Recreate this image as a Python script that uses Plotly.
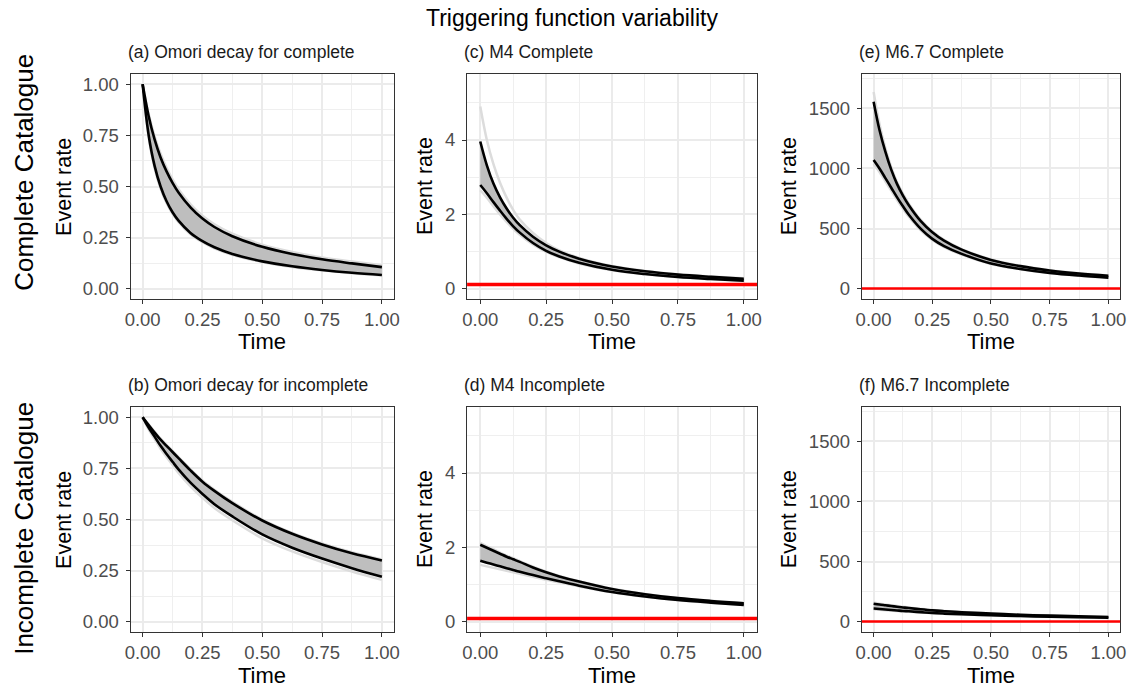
import plotly.graph_objects as go

# ---------------- data ----------------
time_pts = [0, 0.025, 0.05, 0.075, 0.1, 0.125, 0.15, 0.2, 0.25, 0.3, 0.375, 0.5, 0.625, 0.75, 0.875, 1.0]

# (a) Omori decay for complete
a_upper = [1, 0.845, 0.73, 0.642, 0.574, 0.518, 0.471, 0.398, 0.343, 0.302, 0.257, 0.205, 0.17, 0.144, 0.124, 0.106]
a_lower = [1, 0.752, 0.601, 0.50, 0.428, 0.374, 0.333, 0.273, 0.233, 0.203, 0.170, 0.134, 0.110, 0.092, 0.078, 0.067]
a_outer_top = [1, 0.855, 0.745, 0.66, 0.592, 0.535, 0.487, 0.413, 0.357, 0.315, 0.269, 0.216, 0.18, 0.153, 0.133, 0.115]
a_outer_bot = [1, 0.742, 0.59, 0.49, 0.419, 0.366, 0.326, 0.267, 0.228, 0.198, 0.166, 0.131, 0.107, 0.09, 0.076, 0.065]

# (b) Omori decay for incomplete
b_upper = [1, 0.962, 0.925, 0.89, 0.86, 0.83, 0.80, 0.74, 0.685, 0.64, 0.58, 0.495, 0.43, 0.378, 0.335, 0.30]
b_lower = [1, 0.95, 0.905, 0.86, 0.82, 0.782, 0.745, 0.68, 0.625, 0.575, 0.515, 0.427, 0.362, 0.309, 0.262, 0.22]
b_outer_top = [1, 0.965, 0.93, 0.895, 0.865, 0.835, 0.806, 0.746, 0.691, 0.646, 0.586, 0.50, 0.435, 0.383, 0.34, 0.305]
b_outer_bot = [1, 0.94, 0.893, 0.846, 0.805, 0.766, 0.728, 0.662, 0.606, 0.556, 0.496, 0.408, 0.344, 0.292, 0.246, 0.205]

# (c) M4 Complete
c_upper = [3.96, 3.32, 2.83, 2.46, 2.16, 1.91, 1.71, 1.40, 1.17, 1.00, 0.81, 0.60, 0.47, 0.38, 0.32, 0.27]
c_lower = [2.79, 2.57, 2.33, 2.10, 1.88, 1.68, 1.51, 1.23, 1.02, 0.87, 0.70, 0.51, 0.395, 0.315, 0.262, 0.22]
c_outer_top = [4.9, 4.0, 3.35, 2.85, 2.45, 2.12, 1.86, 1.5, 1.23, 1.03, 0.83, 0.61, 0.48, 0.39, 0.33, 0.28]
c_outer_bot = [2.65, 2.45, 2.22, 2.0, 1.8, 1.61, 1.45, 1.19, 0.99, 0.85, 0.68, 0.50, 0.39, 0.31, 0.258, 0.215]
c_background = 0.115

# (d) M4 Incomplete
d_upper = [2.07, 1.99, 1.91, 1.83, 1.75, 1.68, 1.61, 1.46, 1.33, 1.22, 1.08, 0.88, 0.74, 0.635, 0.56, 0.50]
d_lower = [1.64, 1.59, 1.54, 1.49, 1.44, 1.39, 1.345, 1.255, 1.17, 1.09, 0.97, 0.80, 0.68, 0.585, 0.515, 0.455]
d_outer_top = [2.12, 2.03, 1.95, 1.86, 1.78, 1.71, 1.63, 1.48, 1.35, 1.235, 1.09, 0.89, 0.75, 0.64, 0.565, 0.505]
d_outer_bot = [1.53, 1.49, 1.45, 1.41, 1.37, 1.33, 1.29, 1.21, 1.13, 1.06, 0.95, 0.79, 0.67, 0.58, 0.51, 0.45]
d_background = 0.085

# (e) M6.7 Complete
e_upper = [1555, 1320, 1140, 990, 870, 775, 695, 565, 470, 400, 325, 240, 188, 152, 127, 108]
e_lower = [1071, 1000, 920, 840, 760, 685, 615, 500, 415, 355, 290, 210, 165, 132, 110, 93]
e_outer_top = [1635, 1370, 1170, 1010, 885, 790, 708, 575, 478, 406, 330, 244, 191, 155, 129, 110]
e_outer_bot = [1040, 970, 893, 815, 738, 665, 598, 487, 405, 347, 284, 206, 162, 130, 108, 91]
e_background = 2

# (f) M6.7 Incomplete
f_upper = [150, 143, 137, 131, 125, 119, 114, 104, 95, 88, 79, 68, 58, 51, 45, 40]
f_lower = [110, 106, 102, 98, 94, 90, 87, 80, 73, 68, 62, 55, 48, 42, 37, 33]
f_outer_top = [160, 150, 143, 137, 131, 124, 118, 107, 97, 90, 81, 69, 59, 52, 46, 41]
f_outer_bot = [102, 99, 96, 93, 90, 86, 83, 77, 71, 66, 60, 53, 46, 41, 36, 32]
f_background = 2

panel_titles = ["(a) Omori decay for complete", "(c) M4 Complete", "(e) M6.7 Complete",
                "(b) Omori decay for incomplete", "(d) M4 Incomplete", "(f) M6.7 Incomplete"]
row_labels = ["Complete Catalogue", "Incomplete Catalogue"]
x_ticks = [0, 0.25, 0.5, 0.75, 1.0]

# ---------------- layout geometry ----------------
W, H = 1138, 689
col_px = [(126, 392), (466, 759), (865, 1126)]
row_px = [(74, 299), (407, 632)]
time_title_offset = [42, 43]

panels = [
    dict(up=a_upper, lo=a_lower, ot=a_outer_top, ob=a_outer_bot, bg=None, yr=[-0.05, 1.05], dt=0.25, fmt=".2f", r=0, c=0),
    dict(up=c_upper, lo=c_lower, ot=c_outer_top, ob=c_outer_bot, bg=c_background, yr=[-0.275, 5.775], dt=2, fmt="d", r=0, c=1, bgw=3.5),
    dict(up=e_upper, lo=e_lower, ot=e_outer_top, ob=e_outer_bot, bg=e_background, yr=[-85, 1785], dt=500, fmt="d", r=0, c=2, bgw=2.5),
    dict(up=b_upper, lo=b_lower, ot=b_outer_top, ob=b_outer_bot, bg=None, yr=[-0.05, 1.05], dt=0.25, fmt=".2f", r=1, c=0),
    dict(up=d_upper, lo=d_lower, ot=d_outer_top, ob=d_outer_bot, bg=d_background, yr=[-0.275, 5.775], dt=2, fmt="d", r=1, c=1, bgw=3.5),
    dict(up=f_upper, lo=f_lower, ot=f_outer_top, ob=f_outer_bot, bg=f_background, yr=[-85, 1785], dt=500, fmt="d", r=1, c=2, bgw=2.5),
]

FONT = "Liberation Sans, Arial, Helvetica, sans-serif"
fig = go.Figure()
annotations = []
shapes = []

for i, p in enumerate(panels):
    k = i + 1
    xa = "x" if k == 1 else f"x{k}"
    ya = "y" if k == 1 else f"y{k}"
    x0, x1 = col_px[p["c"]]
    y0, y1 = row_px[p["r"]]
    xdom = [x0 / W, x1 / W]
    ydom = [(H - y1) / H, (H - y0) / H]
    axis_common = dict(showline=True, mirror=True, linecolor="#333333", linewidth=1.3,
                       ticks="outside", ticklen=4, tickwidth=1.2, tickcolor="#333333",
                       showgrid=True, gridcolor="#ebebeb", gridwidth=1.8, zeroline=False,
                       tickfont=dict(family=FONT, size=18.5, color="#4d4d4d"))
    fig.update_layout(**{
        ("xaxis" if k == 1 else f"xaxis{k}"): dict(
            domain=xdom, range=[-0.05, 1.05], anchor=ya, tickvals=x_ticks, tickformat=".2f",
            ticklabelstandoff=0,
            minor=dict(dtick=0.125, tick0=0, showgrid=True, gridcolor="#efefef", gridwidth=1.0, ticks=""),
            **axis_common),
        ("yaxis" if k == 1 else f"yaxis{k}"): dict(
            domain=ydom, range=p["yr"], anchor=xa, dtick=p["dt"], tick0=0, tickformat=p["fmt"],
            ticklabelstandoff=3,
            minor=dict(dtick=p["dt"] / 2, tick0=0, showgrid=True, gridcolor="#efefef", gridwidth=1.0, ticks=""),
            **axis_common),
    })
    # light sample envelope lines
    for series in (p["ot"], p["ob"]):
        fig.add_trace(go.Scatter(x=time_pts, y=series, mode="lines",
                                 line=dict(width=2.5, shape="spline", color="#dcdcdc"),
                                 xaxis=xa, yaxis=ya, showlegend=False, hoverinfo="skip"))
    # gray ribbon
    fig.add_trace(go.Scatter(x=time_pts, y=p["lo"], mode="lines", line=dict(width=0, shape="spline", color="#bebebe"),
                             xaxis=xa, yaxis=ya, showlegend=False, hoverinfo="skip"))
    fig.add_trace(go.Scatter(x=time_pts, y=p["up"], mode="lines", line=dict(width=0, shape="spline", color="#bebebe"),
                             fill="tonexty", fillcolor="#bebebe", xaxis=xa, yaxis=ya, showlegend=False, hoverinfo="skip"))
    # background rate (red)
    if p["bg"] is not None:
        shapes.append(dict(type="line", xref=f"{xa} domain", yref=ya, x0=0, x1=1, y0=p["bg"], y1=p["bg"],
                           line=dict(color="#ff0000", width=p["bgw"]), layer="above"))
    # black quantile lines
    for series in (p["up"], p["lo"]):
        fig.add_trace(go.Scatter(x=time_pts, y=series, mode="lines", line=dict(width=2.6, shape="spline", color="black"),
                                 xaxis=xa, yaxis=ya, showlegend=False, hoverinfo="skip"))
    # strip title (left aligned above panel)
    annotations.append(dict(text=panel_titles[i], xref="paper", yref="paper", x=(x0 - 5) / W, y=(H - (y0 - 22)) / H,
                            xanchor="left", yanchor="middle", showarrow=False,
                            font=dict(family=FONT, size=17.5, color="#1a1a1a")))
    # x axis title
    annotations.append(dict(text="Time", xref="paper", yref="paper", x=(x0 + x1) / 2 / W,
                            y=(H - (y1 + time_title_offset[p["r"]])) / H,
                            xanchor="center", yanchor="middle", showarrow=False,
                            font=dict(family=FONT, size=22, color="black")))
    # y axis title
    ytitle_x = [58, 423, 791][p["c"]]
    annotations.append(dict(text="Event rate", xref="paper", yref="paper", x=ytitle_x / W, y=(H - (y0 + y1) / 2) / H,
                            xanchor="center", yanchor="middle", textangle=-90, showarrow=False,
                            font=dict(family=FONT, size=21.5, color="black")))

# row labels
for lab, yc in zip(row_labels, [172, 528]):
    annotations.append(dict(text=lab, xref="paper", yref="paper", x=18 / W, y=(H - yc) / H,
                            xanchor="center", yanchor="middle", textangle=-90, showarrow=False,
                            font=dict(family=FONT, size=26, color="black")))

# overall title
annotations.append(dict(text="Triggering function variability", xref="paper", yref="paper", x=572 / W, y=(H - 18) / H,
                        xanchor="center", yanchor="middle", showarrow=False,
                        font=dict(family=FONT, size=23, color="black")))

fig.update_layout(width=W, height=H, margin=dict(l=0, r=0, t=0, b=0),
                  paper_bgcolor="white", plot_bgcolor="white",
                  annotations=annotations, shapes=shapes, showlegend=False)

fig.write_html("out.html")
